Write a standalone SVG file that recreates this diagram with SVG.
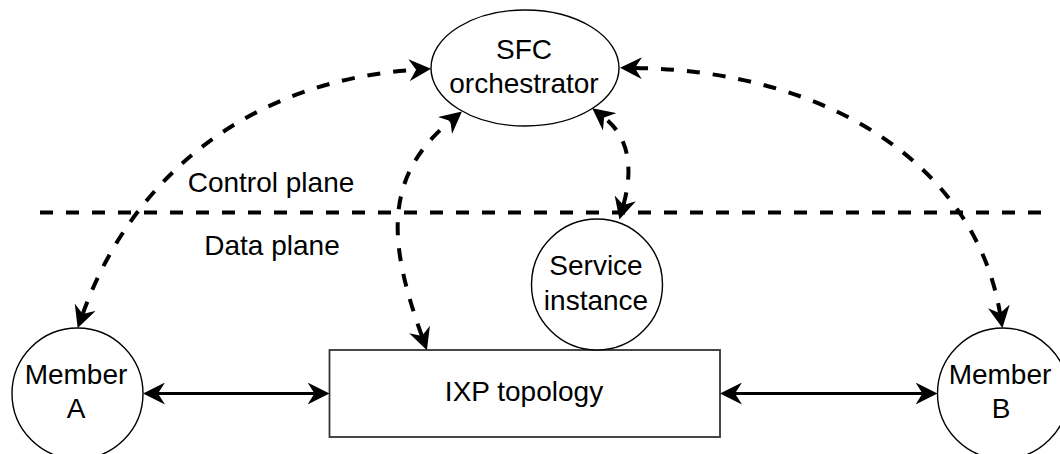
<svg xmlns="http://www.w3.org/2000/svg" width="1060" height="454" viewBox="0 0 1060 454">
<style>
.shape{fill:#fff;stroke:#000;stroke-width:1.4}
.box{fill:#fff;stroke:#333;stroke-width:1.8}
.t{font-family:"Liberation Sans",Arial,Helvetica,sans-serif;font-size:28px;fill:#000;text-anchor:middle}
.dash{fill:none;stroke:#000;stroke-width:4;stroke-dasharray:13 13}
.solid{fill:none;stroke:#000;stroke-width:3}
</style>
<defs>
<marker id="arr" viewBox="0 0 22 22" refX="7" refY="11" markerWidth="22" markerHeight="22" markerUnits="userSpaceOnUse" orient="auto-start-reverse">
<path d="M0,0 L22,11 L0,22 L7,11 Z" fill="#000" stroke="none"/>
</marker>
</defs>
<g id="separator">
<line x1="40" y1="212.5" x2="1043" y2="212.5" class="dash"/>
</g>
<g id="label-control">
<text class="t" x="271" y="192">Control plane</text>
</g>
<g id="label-data">
<text class="t" x="272" y="255">Data plane</text>
</g>
<g id="sfc">
<ellipse class="shape" cx="525" cy="68" rx="94" ry="58"/>
<text class="t" x="524" y="59">SFC</text>
<text class="t" x="524" y="93">orchestrator</text>
</g>
<g id="member-a">
<circle class="shape" cx="77.5" cy="393.5" r="65.5"/>
<text class="t" x="76" y="384">Member</text>
<text class="t" x="76" y="418">A</text>
</g>
<g id="member-b">
<circle class="shape" cx="1003" cy="393.5" r="65.5"/>
<text class="t" x="1000" y="384">Member</text>
<text class="t" x="1001" y="418">B</text>
</g>
<g id="ixp">
<rect class="box" x="329.5" y="350" width="390.5" height="87"/>
<text class="t" x="524" y="401">IXP topology</text>
</g>
<g id="service">
<circle class="shape" cx="597" cy="284.5" r="65.5"/>
<text class="t" x="596" y="275">Service</text>
<text class="t" x="596" y="310">instance</text>
</g>
<g id="connectors">
<path class="dash" d="M82.75,313.9 C131.6,177.3 248.8,80.5 416.1,69.7" marker-start="url(#arr)" marker-end="url(#arr)"/>
<path class="dash" d="M634.9,68 C830.8,70.9 975.8,167.3 1000,313.3" marker-start="url(#arr)" marker-end="url(#arr)"/>
<path class="dash" d="M421.9,336.1 C390.4,247.6 380.1,179.1 450.4,121" marker-start="url(#arr)" marker-end="url(#arr)"/>
<path class="dash" d="M623.4,205.1 C633.4,169 629.4,137 604.1,117.5" marker-start="url(#arr)" marker-end="url(#arr)"/>
<line class="solid" x1="158" y1="393.5" x2="314.5" y2="393.5" marker-start="url(#arr)" marker-end="url(#arr)"/>
<line class="solid" x1="735" y1="393.5" x2="922.5" y2="393.5" marker-start="url(#arr)" marker-end="url(#arr)"/>
</g>
</svg>
